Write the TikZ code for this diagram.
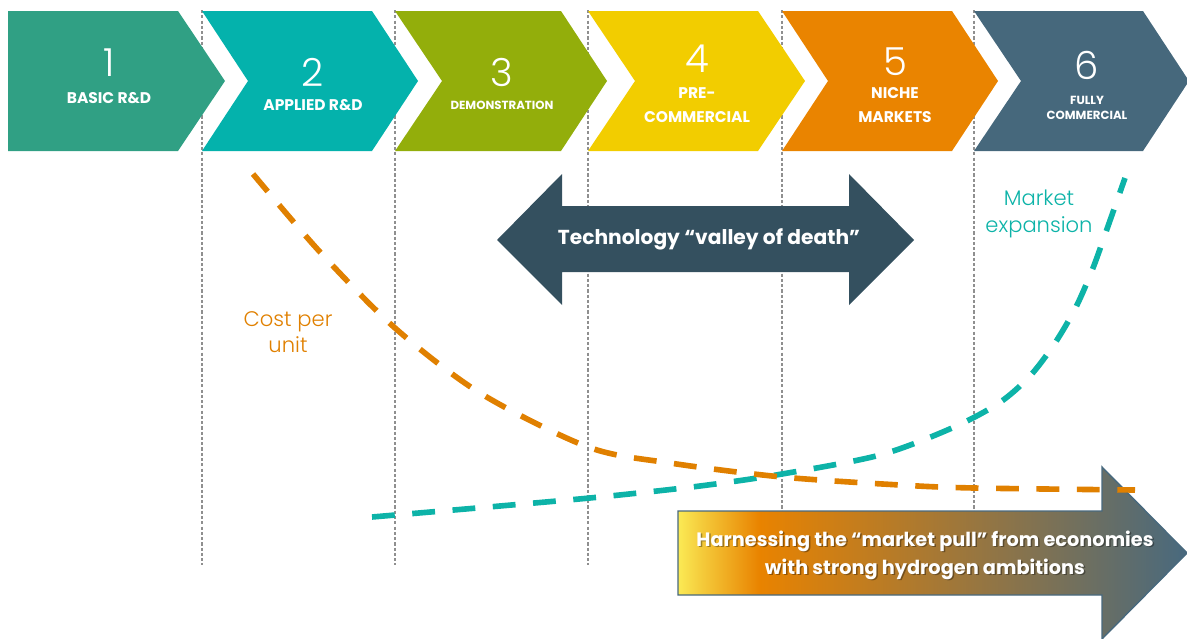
\documentclass[tikz,border=0pt]{standalone}
\usepackage{fontspec}
\setmainfont{Poppins}
\newfontfamily\lightfont{Poppins Light}
\usepackage{tikz}

\definecolor{stageA}{HTML}{30A084}
\definecolor{stageB}{HTML}{04B2AC}
\definecolor{stageC}{HTML}{93AE0B}
\definecolor{stageD}{HTML}{F2CD00}
\definecolor{stageE}{HTML}{EA8400}
\definecolor{stageF}{HTML}{46687C}
\definecolor{valley}{HTML}{34505F}
\definecolor{costcol}{HTML}{E08000}
\definecolor{marketcol}{HTML}{0DB3A8}
\definecolor{sepcol}{HTML}{8F8F8F}
\definecolor{pullY}{HTML}{FBEA55}
\definecolor{pullY2}{HTML}{F5CF3E}
\definecolor{pullO}{HTML}{E98300}
\definecolor{pullS}{HTML}{48697E}
\pgfdeclarehorizontalshading{pullshade}{100bp}{color(0bp)=(pullY); color(25bp)=(pullY); color(27bp)=(pullY2); color(33bp)=(pullO); color(75bp)=(pullS); color(100bp)=(pullS)}

\begin{document}
\begin{tikzpicture}[x=0.02cm, y=-0.02cm,
    stepnum/.style={text=white, font=\lightfont\fontsize{22}{22}\selectfont},
    steplabel/.style={text=white, font=\bfseries\fontsize{8.8}{13.5}\selectfont, align=center},
    smalllabel/.style={text=white, font=\bfseries\fontsize{6.7}{9}\selectfont, align=center},
    sepline/.style={sepcol, line width=1pt, dash pattern=on 1.8pt off 1.2pt},
    curve/.style={line width=3.2pt, dash pattern=on 13pt off 10pt}]

  \useasboundingbox (0,0) rectangle (1187,639);

  %% stage separators (behind everything)
  \draw[sepline] (202,10) -- (202,565);
  \draw[sepline] (395,10) -- (395,565);
  \draw[sepline] (588,10) -- (588,565);
  \draw[sepline] (782,10) -- (782,565);
  \draw[sepline] (974,10) -- (974,565);

  %% the six stages
  \fill[stageA] (8,11) -- (178,11) -- (225,81) -- (178,151) -- (8,151) -- cycle;
  \fill[stageB] (202,11) -- (372,11) -- (418,81) -- (372,151) -- (202,151) -- (248,81) -- cycle;
  \fill[stageC] (395,11) -- (561,11) -- (607,81) -- (561,151) -- (395,151) -- (442,81) -- cycle;
  \fill[stageD] (588,11) -- (758,11) -- (805,81) -- (758,151) -- (588,151) -- (635,81) -- cycle;
  \fill[stageE] (782,11) -- (952,11) -- (998,81) -- (952,151) -- (782,151) -- (828,81) -- cycle;
  \fill[stageF] (974,11) -- (1143,11) -- (1189,81) -- (1143,151) -- (974,151) -- (1021,81) -- cycle;

  \node[stepnum] (n1) at (109,63) {1};
  \node[steplabel] (l1) at (109,98) {BASIC R\&D};
  \node[stepnum] (n2) at (313,72) {2};
  \node[steplabel] (l2) at (313,105) {APPLIED R\&D};
  \node[stepnum] (n3) at (502,72) {3};
  \node[smalllabel] (l3) at (502,105) {DEMONSTRATION};
  \node[stepnum] (n4) at (697,59) {4};
  \node[steplabel] (l4) at (697,105) {PRE-\\COMMERCIAL};
  \node[stepnum] (n5) at (895,62) {5};
  \node[steplabel] (l5) at (895,105) {NICHE\\MARKETS};
  \node[stepnum] (n6) at (1087,65) {6};
  \node[smalllabel] (l6) at (1087,108) {FULLY\\COMMERCIAL};

  %% valley of death
  \fill[valley] (497,240) -- (562,174) -- (562,206) -- (849,206) -- (849,174) -- (914,240)
    -- (849,305) -- (849,272) -- (562,272) -- (562,305) -- cycle;
  \node[text=white, font=\bfseries\fontsize{11.5}{13}\selectfont] (vod) at (709,239) {Technology “valley of death”};

  %% market pull
  \path[draw=pullS, line width=0.8pt, shading=pullshade] (678,511) -- (1102,511) -- (1102,467)
    -- (1187,553) -- (1102,639) -- (1102,595) -- (678,595) -- cycle;
  \node[text=black, opacity=0.35, align=center, font=\bfseries\fontsize{11}{16}\selectfont] (pullsh) at (926.5,556.5)
    {Harnessing the “market pull” from economies\\with strong hydrogen ambitions};
  \node[text=white, align=center, font=\bfseries\fontsize{11}{16}\selectfont] (pull) at (925,555)
    {Harnessing the “market pull” from economies\\with strong hydrogen ambitions};

  %% curves
  \draw[curve, marketcol] plot[smooth] coordinates {(372,517) (500,506) (600,497) (700,486) (782,474)
    (880,455) (952,428) (999,403) (1030,376) (1055,343) (1076,307) (1093,268) (1107,229) (1125,178)};
  \draw[curve, costcol] plot[smooth] coordinates {(253,174) (320,252) (395,328) (480,393) (588,447)
    (670,463) (782,477) (900,485) (974,488) (1135,490)};

  \node[text=costcol, align=center, font=\lightfont\fontsize{12}{14.5}\selectfont] (cost) at (288,332) {Cost per\\unit};
  \node[text=marketcol, align=center, font=\lightfont\fontsize{12}{15}\selectfont] (market) at (1039,214) {Market\\expansion};

\end{tikzpicture}
\end{document}
